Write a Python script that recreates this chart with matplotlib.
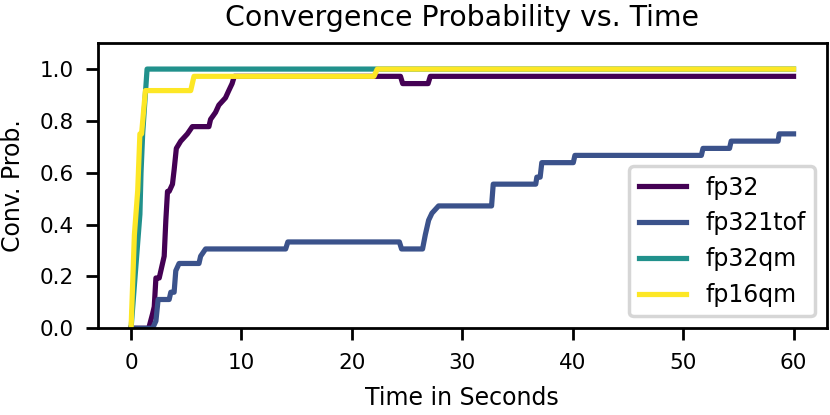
import matplotlib
matplotlib.use("Agg")
import matplotlib.pyplot as plt

# ---- data (vertices) ----
labels = ["fp32", "fp321tof", "fp32qm", "fp16qm"]
colors = ["#440154", "#3b528b", "#21918c", "#fde725"]

t_fp32 = [0, 1.6, 1.95, 2.1, 2.25, 2.55, 2.7, 2.85, 3.0, 3.15, 3.3, 3.45,
          3.75, 3.9, 4.1, 4.5, 5.1, 5.55, 7.05, 7.2, 7.65, 7.95, 8.55, 8.85,
          9.15, 9.35, 24.4, 24.6, 26.9, 27.1, 60]
p_fp32 = [0, 0, 0.056, 0.083, 0.194, 0.194, 0.222, 0.25, 0.278, 0.417, 0.528,
          0.528, 0.556, 0.611, 0.694, 0.722, 0.75, 0.778, 0.778, 0.806, 0.833,
          0.861, 0.889, 0.917, 0.944, 0.972, 0.972, 0.944, 0.944, 0.972, 0.972]

t_tof = [0, 1.95, 2.25, 2.45, 3.45, 3.6, 3.9, 4.05, 4.35, 6.15, 6.3, 6.75,
         14.0, 14.2, 24.3, 24.5, 26.4, 26.65, 26.95, 27.25, 27.85, 32.65,
         32.8, 36.65, 36.75, 37.05, 37.2, 40.05, 40.2, 51.65, 51.8, 54.2,
         54.35, 58.6, 58.7, 60]
p_tof = [0, 0, 0.028, 0.111, 0.111, 0.139, 0.139, 0.222, 0.25, 0.25, 0.278,
         0.306, 0.306, 0.333, 0.333, 0.306, 0.306, 0.361, 0.417, 0.444, 0.472,
         0.472, 0.556, 0.556, 0.583, 0.583, 0.639, 0.639, 0.667, 0.667, 0.694,
         0.694, 0.722, 0.722, 0.75, 0.75]

t_fp32qm = [0, 0.8, 0.9, 1.05, 1.45, 60]
p_fp32qm = [0, 0.44, 0.6, 0.75, 1.0, 1.0]

t_fp16qm = [0, 0.3, 0.6, 0.8, 0.95, 1.3, 5.4, 5.7, 22.0, 22.3, 60]
p_fp16qm = [0, 0.36, 0.53, 0.75, 0.75, 0.917, 0.917, 0.972, 0.972, 1.0, 1.0]

series_t = [t_fp32, t_tof, t_fp32qm, t_fp16qm]
series_p = [p_fp32, p_tof, p_fp32qm, p_fp16qm]

# ---- figure ----
DPI = 250
fig = plt.figure(figsize=(830 / DPI, 415 / DPI), dpi=DPI)
ax = fig.add_axes([0.118, 0.209, 0.878, 0.687])

for t, p, lab, c in zip(series_t, series_p, labels, colors):
    ax.plot(t, p, color=c, lw=1.5, label=lab)

ax.set_ylim(0, 1.1)
ax.set_xlim(-3, 63)
ax.set_xticks([0, 10, 20, 30, 40, 50, 60])
ax.set_yticks([0.0, 0.2, 0.4, 0.6, 0.8, 1.0])
ax.tick_params(labelsize=6.2)
ax.set_xlabel("Time in Seconds", fontsize=6.8)
ax.set_ylabel("Conv. Prob.", fontsize=6.8)
ax.set_title("Convergence Probability vs. Time", fontsize=8.2, pad=5)
ax.legend(loc="lower right", fontsize=6.8)

fig.savefig("out.png", dpi=DPI)
